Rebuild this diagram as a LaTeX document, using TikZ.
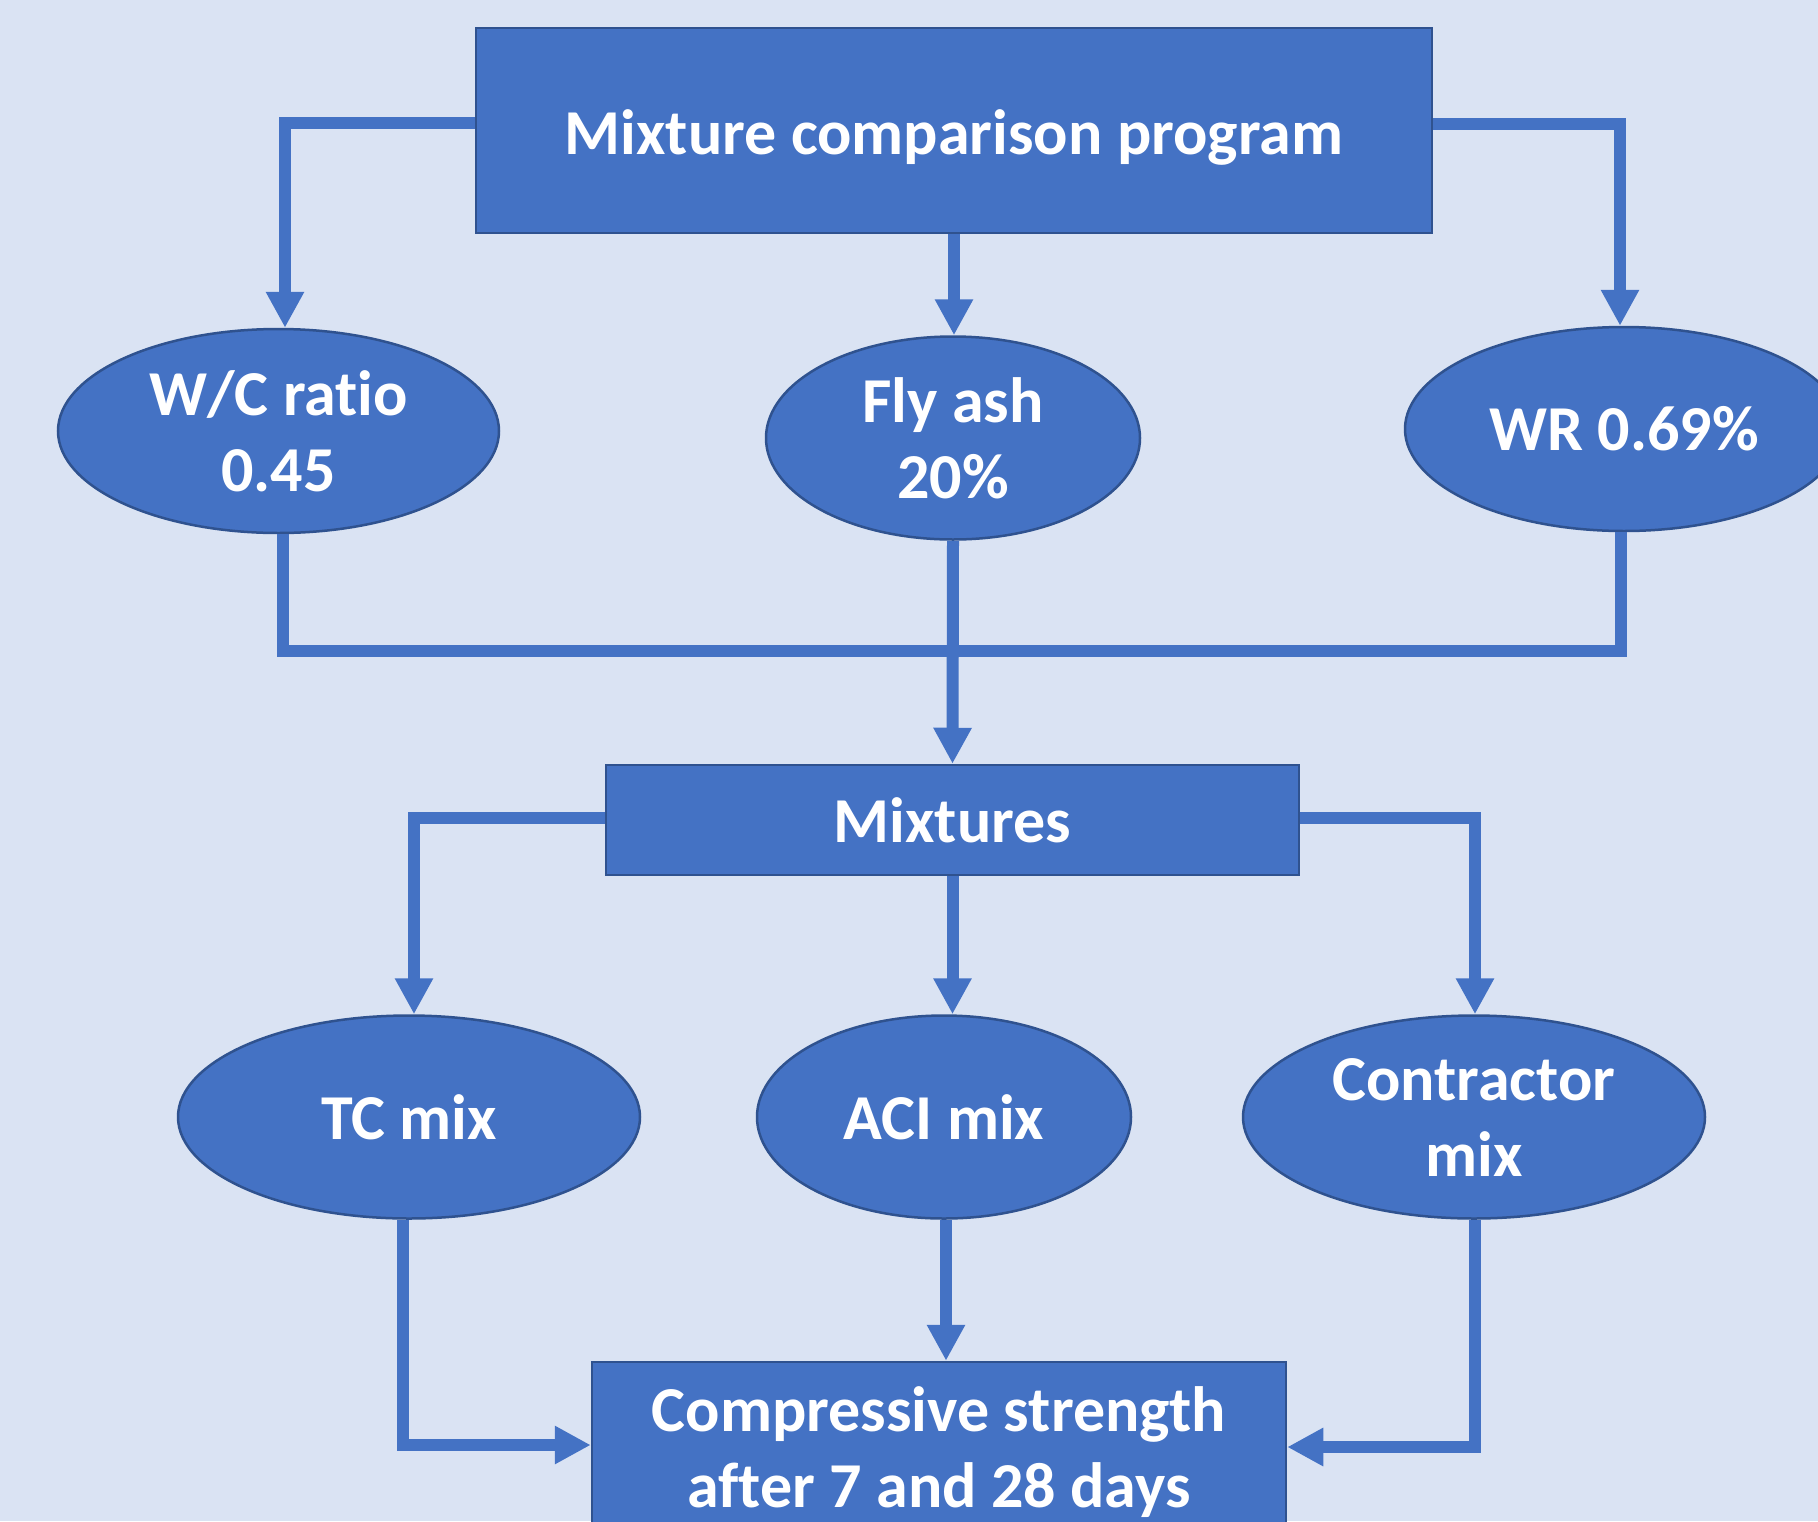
\documentclass[tikz,border=0pt]{standalone}
\usepackage{fontspec}
\setmainfont{Carlito}[Ligatures={NoCommon,NoRequired,NoContextual}]
\usetikzlibrary{shapes.geometric,arrows.meta}
\definecolor{bg}{HTML}{DAE3F3}
\definecolor{fillblue}{HTML}{4472C4}
\definecolor{edgeblue}{HTML}{2F528F}
\tikzset{
  boxtext/.style={font=\fontsize{64}{76}\selectfont\bfseries, text=white, align=center, inner sep=0pt},
  rectbox/.style={boxtext, rectangle, fill=fillblue, draw=edgeblue, line width=2.5pt},
  ellbox/.style={boxtext, ellipse, fill=fillblue, draw=edgeblue, line width=2.5pt},
  conn/.style={draw=fillblue, line width=12pt, line join=miter},
  arr/.style={conn, -{Triangle[width=36pt,length=36pt]}},
}
\begin{document}
\begin{tikzpicture}[x=1pt,y=-1pt]
\fill[bg] (0,0) rectangle (1818,1521);
\useasboundingbox (0,0) rectangle (1818,1521);

% nodes
\node[rectbox, minimum width=956pt, minimum height=205pt] (top) at (954,130.5) {};
\node[boxtext] (toptext) at (954,137) {Mixture comparison program};
\node[ellbox, minimum width=441pt, minimum height=204pt] (wc) at (278.5,431) {W/C ratio\\0.45};
\node[ellbox, minimum width=374pt, minimum height=203pt] (fly) at (953,438) {Fly ash\\20\%};
\node[ellbox, minimum width=438pt, minimum height=204pt] (wr) at (1624,429) {WR 0.69\%};
\node[rectbox, minimum width=693pt, minimum height=110pt] (mix) at (952.5,820) {Mixtures};
\node[ellbox, minimum width=462pt, minimum height=203pt] (tc) at (409,1117) {TC mix};
\node[ellbox, minimum width=374pt, minimum height=203pt] (aci) at (944,1117) {ACI mix};
\node[ellbox, minimum width=462pt, minimum height=203pt] (con) at (1474,1117) {Contractor\\mix};
\node[rectbox, minimum width=694pt, minimum height=180pt] (comp) at (939,1452) {Compressive strength\\after 7 and 28 days};

% top connectors
\draw[arr] ([yshift=7.5pt]top.west) -| ([xshift=6.5pt]wc.north);
\draw[arr] ([yshift=7pt]top.east) -| ([xshift=-4pt]wr.north);
\draw[arr] (top.south) -- (top.south |- fly.north);

% merge bar
\coordinate (j) at (953,651);
\draw[conn] ([xshift=4.5pt]wc.south) |- (j) -| ([xshift=-3pt]wr.south);
\draw[arr] (fly.south) -- (mix.north);

% mixtures connectors
\draw[arr] ([yshift=2pt]mix.west) -| ([xshift=5pt]tc.north);
\draw[arr] ([yshift=2pt]mix.east) -| ([xshift=1pt]con.north);
\draw[arr] (mix.south) -- (mix.south |- aci.north);

% to compressive strength
\draw[arr] ([xshift=-6pt]tc.south) |- ([yshift=7pt]comp.west);
\draw[arr] ([xshift=1pt]con.south) |- ([yshift=5pt]comp.east);
\draw[arr] ([xshift=2pt]aci.south) -- ([xshift=2pt]aci.south |- comp.north);
\end{tikzpicture}
\end{document}
